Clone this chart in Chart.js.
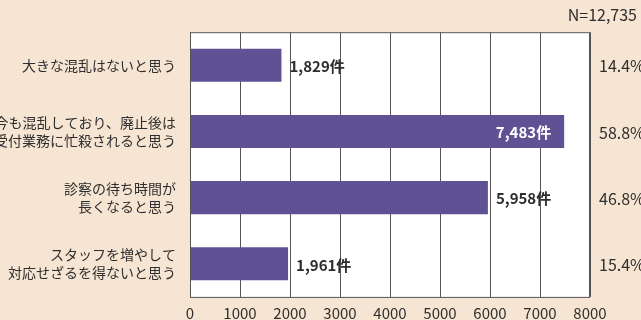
<!DOCTYPE html>
<html>
<head>
<meta charset="utf-8">
<script src="https://cdn.jsdelivr.net/npm/chart.js@4"></script>
<style>
  html, body { margin: 0; padding: 0; background: #f6e5d2; }
  #wrap { width: 641px; height: 320px; position: relative; }
</style>
</head>
<body>
<div id="wrap"><canvas id="c" width="641" height="320"></canvas></div>
<script>
// Responses (count of answers) per opinion
const categories = [
  ["大きな混乱はないと思う"],
  ["今も混乱しており、廃止後は", "受付業務に忙殺されると思う"],
  ["診察の待ち時間が", "長くなると思う"],
  ["スタッフを増やして", "対応せざるを得ないと思う"]
];
const counts = [1829, 7483, 5958, 1961];
const shares = ["14.4%", "58.8%", "46.8%", "15.4%"];
const totalLabel = "N=12,735";
const xTicks = [0, 1000, 2000, 3000, 4000, 5000, 6000, 7000, 8000];

const FONT = '"Noto Sans CJK JP", "Noto Sans", sans-serif';
const BAR = '#5f5194';
const INK = '#2e2e2e';

const fmt = v => v.toLocaleString('en-US') + '件';

const decor = {
  id: 'decor',
  beforeDraw(chart) {
    const { ctx, chartArea: a } = chart;
    ctx.save();
    ctx.fillStyle = '#ffffff';
    ctx.fillRect(a.left, a.top, a.right - a.left, a.bottom - a.top);
    ctx.restore();
  },
  afterDraw(chart) {
    const { ctx, chartArea: a } = chart;
    const xs = chart.scales.x, ys = chart.scales.y;
    ctx.save();
    // plot frame
    ctx.strokeStyle = '#555555';
    ctx.lineWidth = 1;
    ctx.strokeRect(a.left + 0.5, a.top + 0.5, a.right - a.left - 1, a.bottom - a.top);

    // value labels
    ctx.font = 'bold 15px ' + FONT;
    ctx.textBaseline = 'middle';
    const meta = chart.getDatasetMeta(0);
    counts.forEach((v, i) => {
      const y = meta.data[i].y;
      const xe = xs.getPixelForValue(v);
      if (v > 7000) {
        ctx.fillStyle = '#ffffff';
        ctx.textAlign = 'right';
        ctx.fillText(fmt(v), xe - 13, y + 1);
      } else {
        ctx.fillStyle = INK;
        ctx.textAlign = 'left';
        ctx.fillText(fmt(v), xe + 8, y + 1);
      }
    });

    // share labels on the right
    ctx.font = '16px ' + FONT;
    ctx.fillStyle = INK;
    ctx.textAlign = 'left';
    shares.forEach((s, i) => {
      ctx.fillText(s, 599, ys.getPixelForValue(i) + 1);
    });

    // total
    ctx.textAlign = 'right';
    ctx.fillText(totalLabel, 637, 15);
    ctx.restore();
  }
};

new Chart(document.getElementById('c'), {
  type: 'bar',
  data: {
    labels: categories,
    datasets: [{
      data: counts,
      backgroundColor: BAR,
      borderWidth: 0,
      barPercentage: 0.5,
      categoryPercentage: 1.0
    }]
  },
  options: {
    indexAxis: 'y',
    responsive: false,
    animation: false,
    devicePixelRatio: 1,
    layout: { padding: { top: 28, right: 51, left: 0, bottom: 0 } },
    plugins: { legend: { display: false }, tooltip: { enabled: false } },
    scales: {
      x: {
        min: 0, max: 8000,
        afterBuildTicks(scale) { scale.ticks = xTicks.map(v => ({ value: v })); },
        afterFit(scale) { scale.height = 23; },
        grid: { color: '#555555', lineWidth: 1, drawTicks: false },
        border: { display: false },
        ticks: {
          color: INK, padding: 7,
          font: { family: FONT, size: 15 },
          maxRotation: 0, autoSkip: false,
          callback: v => String(v)
        }
      },
      y: {
        afterFit(scale) { scale.width = 190; },
        grid: { display: false, drawTicks: false },
        border: { display: false },
        ticks: {
          color: INK, padding: 14,
          font: { family: FONT, size: 14, lineHeight: 1.3 },
          autoSkip: false
        }
      }
    }
  },
  plugins: [decor]
});
</script>
</body>
</html>
